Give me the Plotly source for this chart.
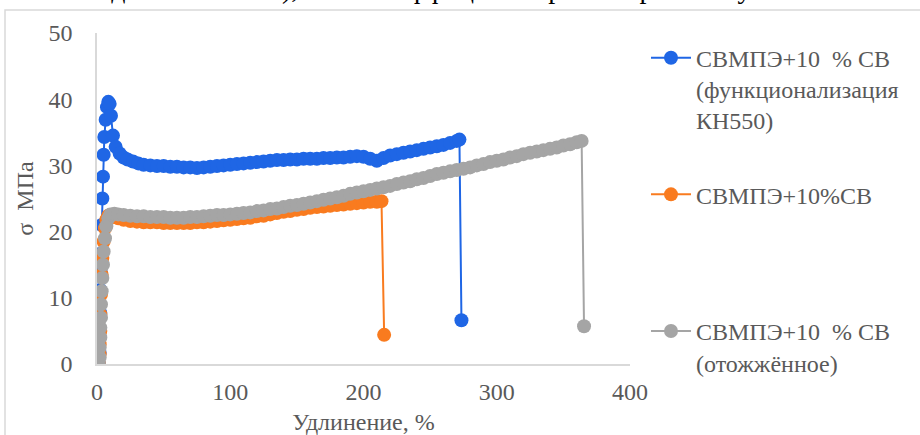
import plotly.graph_objects as go

# ---- data ----
names = [
    "СВМПЭ+10  % СВ<br>(функционализация<br>КН550)",
    "СВМПЭ+10%СВ<br>&nbsp;<br>&nbsp;",
    "СВМПЭ+10  % СВ<br>(отожжённое)",
]

blue_x = [1.5, 2, 2, 2.5, 2.5, 3, 3, 3.5, 4, 4.5, 5, 5.5, 6.5, 7.5, 8.5, 9.5, 10.5, 12, 14, 17, 20, 23, 27, 31, 35,
          40, 45, 50, 55, 60, 65, 70, 75, 80, 85, 90, 95, 100, 105, 110, 115, 120, 125, 130, 135, 140, 145, 150,
          155, 160, 165, 170, 175, 180, 185, 190, 195, 200, 205, 210, 215, 220, 225, 230, 235, 240, 245, 250,
          255, 260, 265, 270, 272, 273.5]
blue_y = [0, 1.7, 4, 7.7, 11.2, 13.7, 16.7, 21, 25, 28.3, 31.6, 34.3, 36.9, 38.8, 39.6, 39.3, 37.5, 34.5, 32.8, 31.8,
          31.2, 30.9, 30.6, 30.3, 30.1,
          30.0, 29.9, 29.9, 29.8, 29.8, 29.7, 29.7, 29.6, 29.7, 29.8, 29.9, 30.0, 30.1, 30.2, 30.3, 30.4, 30.5,
          30.6, 30.7, 30.8, 30.8, 30.9, 30.9, 31.0, 31.0, 31.0, 31.1, 31.1, 31.2, 31.2, 31.3, 31.4, 31.3, 31.0,
          30.7, 31.1, 31.5, 31.7, 31.9, 32.1, 32.3, 32.5, 32.7, 32.9, 33.1, 33.4, 33.7, 33.9, 6.6]

orange_x = [1.5, 2, 2, 2.5, 2.5, 3, 3.5, 4, 5, 6, 7, 8.5, 10, 13, 16, 20, 25, 30, 35,
            40, 45, 50, 55, 60, 65, 70, 75, 80, 85, 90, 95, 100, 105, 110, 115, 120, 125, 130, 135, 140, 145,
            150, 155, 160, 165, 170, 175, 180, 185, 190, 195, 200, 205, 210, 213.5, 215.5]
orange_y = [0, 1.5, 3, 5, 7.5, 10.5, 13.5, 16, 18.5, 20.5, 21.8, 22.4, 22.5, 22.2, 22.0, 21.8, 21.6, 21.5, 21.4,
            21.4, 21.4, 21.3, 21.3, 21.3, 21.3, 21.3, 21.4, 21.4, 21.5, 21.6, 21.7, 21.8, 21.9, 22.0, 22.1, 22.3,
            22.4, 22.6, 22.8, 23.0, 23.1, 23.3, 23.4, 23.6, 23.7, 23.8, 23.9, 24.0, 24.1, 24.2, 24.3, 24.4, 24.5,
            24.5, 24.6, 4.4]

gray_x = [1.5, 2, 2, 2.5, 2.5, 3, 3, 3.5, 4, 4.5, 5, 6, 7, 8.5, 10, 13, 16, 20, 25, 30, 35,
          40, 45, 50, 55, 60, 65, 70, 75, 80, 85, 90, 95, 100, 105, 110, 115, 120, 125, 130, 135, 140, 145, 150,
          155, 160, 165, 170, 175, 180, 185, 190, 195, 200, 205, 210, 215, 220, 225, 230, 235, 240, 245, 250,
          255, 260, 265, 270, 275, 280, 285, 290, 295, 300, 305, 310, 315, 320, 325, 330, 335, 340, 345, 350,
          355, 360, 363.7, 365.5]
gray_y = [0, 1, 2.5, 4, 5.5, 7, 9, 11, 13, 15, 17, 19, 20.8, 22, 22.6, 22.7, 22.6, 22.5, 22.4, 22.3, 22.3,
          22.2, 22.2, 22.2, 22.1, 22.1, 22.1, 22.2, 22.2, 22.3, 22.4, 22.5, 22.5, 22.6, 22.7, 22.8, 22.9, 23.1,
          23.2, 23.4, 23.5, 23.7, 23.9, 24.0, 24.2, 24.4, 24.6, 24.8, 25.0, 25.2, 25.4, 25.7, 25.9, 26.1, 26.3,
          26.5, 26.7, 26.9, 27.2, 27.4, 27.6, 27.9, 28.1, 28.4, 28.7, 28.9, 29.1, 29.3, 29.5, 29.7, 30.0, 30.2,
          30.5, 30.7, 30.9, 31.2, 31.4, 31.7, 31.9, 32.1, 32.3, 32.5, 32.7, 33.0, 33.2, 33.5, 33.7, 5.7]

x_ticks = [0, 100, 200, 300, 400]
y_ticks = [0, 10, 20, 30, 40, 50]
x_title = "Удлинение, %"
y_title = "σ  МПа"
top_text_left = "нием исходного волокна),"
top_text_right = "пока коэффициент трения при этом увеличивается"

colors = ["#1f66e5", "#f97b1f", "#a5a5a5"]
FONT = "Liberation Serif, Times New Roman, serif"

fig = go.Figure()
for i, (xs, ys) in enumerate([(blue_x, blue_y), (orange_x, orange_y), (gray_x, gray_y)]):
    fig.add_trace(go.Scatter(
        x=xs, y=ys, name=names[i], mode="lines+markers",
        line=dict(color=colors[i], width=2),
        marker=dict(color=colors[i], size=14),
        legendgroup=str(i),
    ))

fig.update_layout(
    width=920, height=435,
    margin=dict(l=97, r=290, t=33, b=71, autoexpand=False),
    paper_bgcolor="white", plot_bgcolor="white",
    font=dict(family=FONT, size=24, color="#595959"),
    showlegend=True,
    legend=dict(x=1.03, y=0.992, xanchor="left", yanchor="top", valign="top",
                tracegroupgap=40, itemwidth=40, maxheight=430,
                font=dict(family=FONT, size=24, color="#595959")),
    xaxis=dict(range=[0, 400], tickvals=x_ticks, showgrid=False, zeroline=False,
               showline=True, linecolor="#d9d9d9", linewidth=1.5, ticks="",
               ticklabelstandoff=5, automargin=False,
               title=dict(text=x_title, standoff=12, font=dict(family=FONT, size=24, color="#595959")),
               tickfont=dict(family=FONT, size=24, color="#595959")),
    yaxis=dict(range=[0, 50], tickvals=y_ticks, showgrid=False, zeroline=False,
               showline=True, linecolor="#d9d9d9", linewidth=1.5, ticks="",
               ticklabelstandoff=18, automargin=False,
               title=dict(text=y_title, standoff=8, font=dict(family=FONT, size=24, color="#595959")),
               tickfont=dict(family=FONT, size=24, color="#595959")),
)

fig.add_shape(type="rect", xref="paper", yref="paper",
              x0=-0.1726, x1=1.6, y0=-0.3, y1=1.0695,
              line=dict(color="#d9d9d9", width=1.5), fillcolor="rgba(0,0,0,0)", layer="below")

fig.add_annotation(text=top_text_left, xref="paper", yref="paper", x=(300 - 97) / 533, y=1.083,
                   xanchor="right", yanchor="bottom", showarrow=False,
                   font=dict(family=FONT, size=28, color="#000000"))
fig.add_annotation(text=top_text_right, xref="paper", yref="paper", x=(306 - 97) / 533, y=1.083,
                   xanchor="left", yanchor="bottom", showarrow=False,
                   font=dict(family=FONT, size=28, color="#000000"))

fig.write_html("out.html", config={"displayModeBar": False},
               post_script="document.body.style.margin='0';document.body.style.overflow='hidden';")
